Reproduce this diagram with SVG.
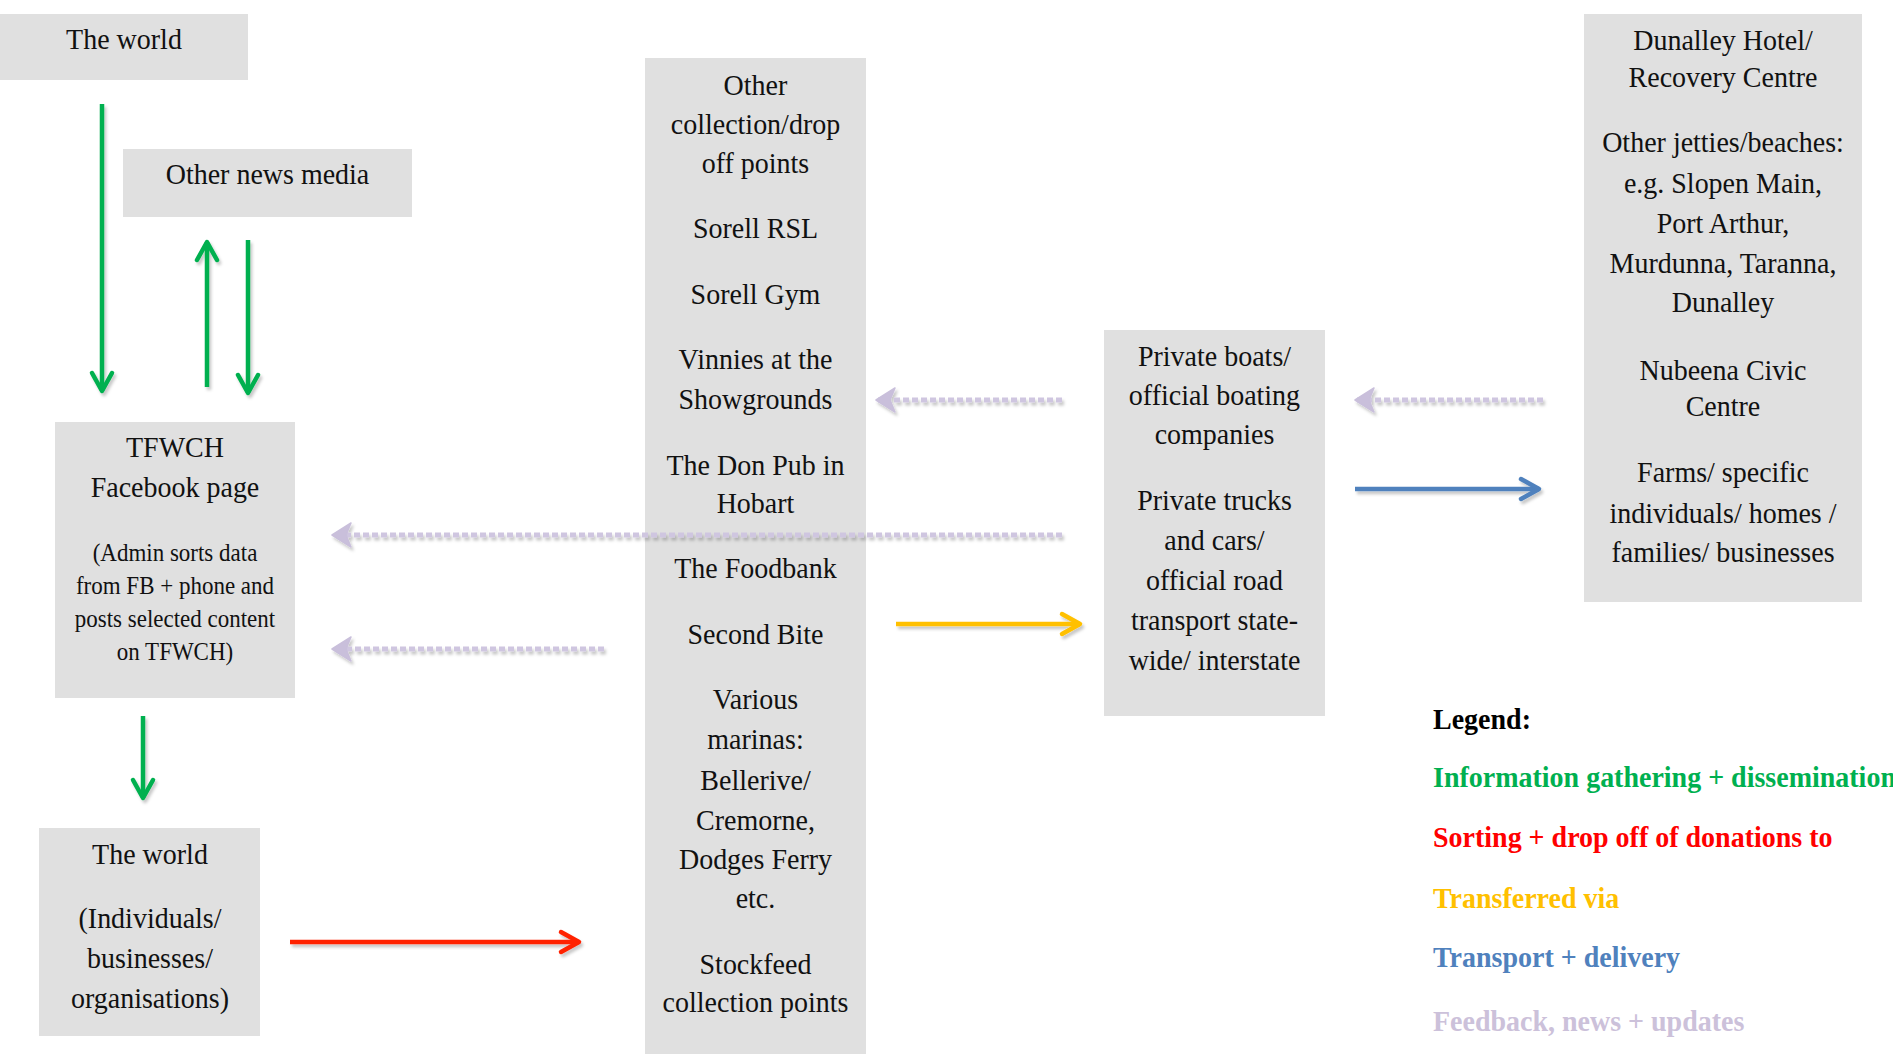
<svg xmlns="http://www.w3.org/2000/svg" width="1893" height="1058" viewBox="0 0 1893 1058">
<style>
.box{fill:#e0e0e0}
text{font-family:"Liberation Serif","Times New Roman",serif;fill:#111;text-anchor:middle}
.t{font-size:28px}
.s{font-size:23px}
.lg{font-size:28px;font-weight:bold;text-anchor:start}
.g{stroke:#00b050;stroke-width:4.5;fill:none}
.r{stroke:#ff2200;stroke-width:4.5;fill:none}
.y{stroke:#ffc000;stroke-width:4.5;fill:none}
.b{stroke:#4f81bd;stroke-width:4.5;fill:none}
.f{stroke:#cfc6e0;stroke-width:5;stroke-dasharray:6 3;fill:none}
</style>
<defs>
<filter id="sh" x="-20%" y="-50%" width="140%" height="200%">
<feDropShadow dx="2" dy="3" stdDeviation="1.5" flood-color="#000" flood-opacity="0.22"/>
</filter>
<marker id="mg" markerUnits="userSpaceOnUse" viewBox="-24 -15 28 30" refX="0" refY="0" markerWidth="28" markerHeight="30" orient="auto">
<path d="M-18 -10 L0 0 L-18 10" fill="none" stroke="#00b050" stroke-width="4.5" stroke-linecap="round" stroke-linejoin="round"/>
</marker>
<marker id="mr" markerUnits="userSpaceOnUse" viewBox="-24 -15 28 30" refX="0" refY="0" markerWidth="28" markerHeight="30" orient="auto">
<path d="M-18 -10 L0 0 L-18 10" fill="none" stroke="#ff2200" stroke-width="4.5" stroke-linecap="round" stroke-linejoin="round"/>
</marker>
<marker id="my" markerUnits="userSpaceOnUse" viewBox="-24 -15 28 30" refX="0" refY="0" markerWidth="28" markerHeight="30" orient="auto">
<path d="M-18 -10 L0 0 L-18 10" fill="none" stroke="#ffc000" stroke-width="4.5" stroke-linecap="round" stroke-linejoin="round"/>
</marker>
<marker id="mb" markerUnits="userSpaceOnUse" viewBox="-24 -15 28 30" refX="0" refY="0" markerWidth="28" markerHeight="30" orient="auto">
<path d="M-18 -10 L0 0 L-18 10" fill="none" stroke="#4f81bd" stroke-width="4.5" stroke-linecap="round" stroke-linejoin="round"/>
</marker>
<marker id="mf" markerUnits="userSpaceOnUse" viewBox="-24 -15 28 30" refX="0" refY="0" markerWidth="28" markerHeight="30" orient="auto">
<path d="M2 0 L-17 -12 L-12 0 L-17 12 Z" fill="#c9bfdb" stroke="#c9bfdb" stroke-width="1.5" stroke-linejoin="round"/>
</marker>
</defs>
<rect width="1893" height="1058" fill="#fff"/>

<g id="world-top">
<rect class="box" x="0" y="14" width="248" height="66"/>
<g transform="scale(1,1.08)">
<text class="t" x="124" y="45.37">The world</text>
</g>
</g>

<g id="news-media">
<rect class="box" x="123" y="149" width="289" height="68"/>
<g transform="scale(1,1.08)">
<text class="t" x="267.5" y="170.37">Other news media</text>
</g>
</g>

<g id="tfwch">
<rect class="box" x="55" y="422" width="240" height="276"/>
<g transform="scale(1,1.08)">
<text class="t" x="175" y="423.15">TFWCH</text>
<text class="t" x="175" y="460.19">Facebook page</text>
<text class="s" x="175" y="519.44">(Admin sorts data</text>
<text class="s" x="175" y="550">from FB + phone and</text>
<text class="s" x="175" y="580.56">posts selected content</text>
<text class="s" x="175" y="611.11">on TFWCH)</text>
</g>
</g>

<g id="world-bottom">
<rect class="box" x="39" y="828" width="221" height="208"/>
<g transform="scale(1,1.08)">
<text class="t" x="150" y="800">The world</text>
<text class="t" x="150" y="859.26">(Individuals/</text>
<text class="t" x="150" y="896.3">businesses/</text>
<text class="t" x="150" y="933.33">organisations)</text>
</g>
</g>

<g id="collection-points">
<rect class="box" x="645" y="58" width="221" height="996"/>
<g transform="scale(1,1.08)">
<text class="t" x="755.5" y="87.96">Other</text>
<text class="t" x="755.5" y="124.07">collection/drop</text>
<text class="t" x="755.5" y="160.19">off points</text>
<text class="t" x="755.5" y="220.37">Sorell RSL</text>
<text class="t" x="755.5" y="281.48">Sorell Gym</text>
<text class="t" x="755.5" y="341.67">Vinnies at the</text>
<text class="t" x="755.5" y="378.7">Showgrounds</text>
<text class="t" x="755.5" y="439.81">The Don Pub in</text>
<text class="t" x="755.5" y="475">Hobart</text>
<text class="t" x="755.5" y="535.19">The Foodbank</text>
<text class="t" x="755.5" y="596.3">Second Bite</text>
<text class="t" x="755.5" y="656.48">Various</text>
<text class="t" x="755.5" y="693.52">marinas:</text>
<text class="t" x="755.5" y="731.48">Bellerive/</text>
<text class="t" x="755.5" y="768.52">Cremorne,</text>
<text class="t" x="755.5" y="804.63">Dodges Ferry</text>
<text class="t" x="755.5" y="840.74">etc.</text>
<text class="t" x="755.5" y="901.85">Stockfeed</text>
<text class="t" x="755.5" y="937.04">collection points</text>
</g>
</g>

<g id="transport">
<rect class="box" x="1104" y="330" width="221" height="386"/>
<g transform="scale(1,1.08)">
<text class="t" x="1214.5" y="338.89">Private boats/</text>
<text class="t" x="1214.5" y="375">official boating</text>
<text class="t" x="1214.5" y="411.11">companies</text>
<text class="t" x="1214.5" y="472.22">Private trucks</text>
<text class="t" x="1214.5" y="509.26">and cars/</text>
<text class="t" x="1214.5" y="546.3">official road</text>
<text class="t" x="1214.5" y="583.33">transport state-</text>
<text class="t" x="1214.5" y="620.37">wide/ interstate</text>
</g>
</g>

<g id="destinations">
<rect class="box" x="1584" y="14" width="278" height="588"/>
<g transform="scale(1,1.08)">
<text class="t" x="1723" y="46.3">Dunalley Hotel/</text>
<text class="t" x="1723" y="80.56">Recovery Centre</text>
<text class="t" x="1723" y="140.74">Other jetties/beaches:</text>
<text class="t" x="1723" y="178.7">e.g. Slopen Main,</text>
<text class="t" x="1723" y="215.74">Port Arthur,</text>
<text class="t" x="1723" y="252.78">Murdunna, Taranna,</text>
<text class="t" x="1723" y="288.89">Dunalley</text>
<text class="t" x="1723" y="351.85">Nubeena Civic</text>
<text class="t" x="1723" y="385.19">Centre</text>
<text class="t" x="1723" y="446.3">Farms/ specific</text>
<text class="t" x="1723" y="484.26">individuals/ homes /</text>
<text class="t" x="1723" y="520.37">families/ businesses</text>
</g>
</g>

<g id="connectors" filter="url(#sh)">
<line class="g" x1="102" y1="104" x2="102" y2="391" marker-end="url(#mg)"/>
<line class="g" x1="207" y1="387" x2="207" y2="242" marker-end="url(#mg)"/>
<line class="g" x1="248" y1="240" x2="248" y2="393" marker-end="url(#mg)"/>
<line class="g" x1="143" y1="716" x2="143" y2="798" marker-end="url(#mg)"/>
<line class="r" x1="290" y1="942" x2="579" y2="942" marker-end="url(#mr)"/>
<line class="y" x1="896" y1="624" x2="1080" y2="624" marker-end="url(#my)"/>
<line class="b" x1="1355" y1="489" x2="1539" y2="489" marker-end="url(#mb)"/>
<line class="f" x1="1062" y1="400" x2="878" y2="400" marker-end="url(#mf)"/>
<line class="f" x1="1543" y1="400" x2="1357" y2="400" marker-end="url(#mf)"/>
<line class="f" x1="1062" y1="535" x2="334" y2="535" marker-end="url(#mf)"/>
<line class="f" x1="604" y1="649" x2="334" y2="649" marker-end="url(#mf)"/>
</g>

<g id="legend">
<g transform="scale(1,1.08)">
<text class="lg" x="1433" y="675" style="fill:#000">Legend:</text>
<text class="lg" x="1433" y="728.7" style="fill:#00b050">Information gathering + dissemination</text>
<text class="lg" x="1433" y="784.26" style="fill:#ff0000">Sorting + drop off of donations to</text>
<text class="lg" x="1433" y="840.74" style="fill:#ffc000">Transferred via</text>
<text class="lg" x="1433" y="895.37" style="fill:#4f81bd">Transport + delivery</text>
<text class="lg" x="1433" y="954.63" style="fill:#ccc1da">Feedback, news + updates</text>
</g>
</g>
</svg>
